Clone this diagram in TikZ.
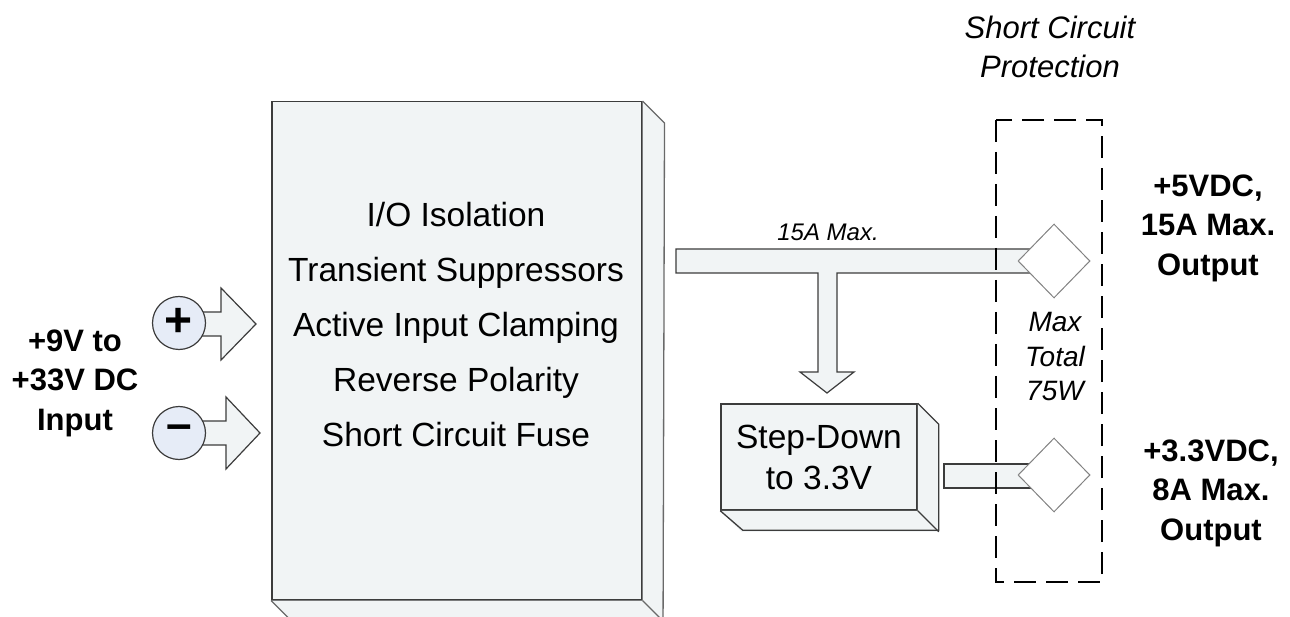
\documentclass[tikz,border=0pt]{standalone}
\usepackage{fontspec}
\setmainfont{Liberation Sans}
\usetikzlibrary{shapes.geometric}
\definecolor{boxfill}{RGB}{241,244,245}
\definecolor{circfill}{RGB}{230,236,247}
\definecolor{edge}{RGB}{60,60,60}
\definecolor{sideedge}{RGB}{105,105,105}
\definecolor{diaedge}{RGB}{130,130,130}
\begin{document}
\begin{tikzpicture}[x=1pt,y=-1pt,
  face/.style={fill=boxfill, draw=edge, line width=1.5pt, inner sep=0pt, anchor=north west},
  sidefill/.style={fill=boxfill},
  sideline/.style={draw=sideedge, line width=1.3pt, line join=miter},
  bararrow/.style={fill=boxfill, draw=edge, line width=1.2pt, line join=miter},
  dia/.style={diamond, draw=diaedge, fill=white, line width=1pt, minimum width=72pt, minimum height=74pt, inner sep=0pt},
  pm/.style={circle, draw=edge, fill=circfill, line width=1.2pt, minimum size=53pt, inner sep=0pt},
  boldlbl/.style={font=\fontsize{31}{39.5}\selectfont\bfseries, align=center},
  maintext/.style={font=\fontsize{33.5}{55}\selectfont, align=center},
  itlbl/.style={font=\fontsize{31}{39}\selectfont\itshape, align=center},
  protbox/.style={draw=black, line width=2pt, dash pattern=on 22pt off 10pt}]
\useasboundingbox (0,0) rectangle (1290,617);
\clip (0,0) rectangle (1290,617);

% main isolation block
\node[face, minimum width=370pt, minimum height=498pt] (main) at (271,101) {};
\fill[sidefill] (main.north east) -- ++(22,22) -- (663,640) -- (main.south east) -- cycle;
\fill[sidefill] (main.south west) -- ++(22,22) -- (663,621) -- (main.south east) -- cycle;
\draw[sideline] (main.north east) -- ++(22,22) -- (663,640);
\draw[sideline] (main.south west) -- ++(22,22);
\draw[sideline] (main.south east) -- ++(22,22);
\node[maintext] (mainlbl) at (456,325) {I/O Isolation\\Transient Suppressors\\Active Input Clamping\\Reverse Polarity\\Short Circuit Fuse};

% step-down block
\node[face, minimum width=196pt, minimum height=106pt, align=center, font=\fontsize{33.5}{41}\selectfont, anchor=center] (step3) at (819,457) {Step-Down\\to 3.3V};
\fill[sidefill] (step3.north east) -- ++(21,21) -- ++(0,106) -- (step3.south east) -- cycle;
\fill[sidefill] (step3.south west) -- ++(21,21) -- ++(196,0) -- (step3.south east) -- cycle;
\draw[sideline, draw=edge] (step3.north east) -- ++(21,21) -- ++(0,106) -- ++(-196,0) -- (step3.south west);
\draw[sideline, draw=edge] (step3.south east) -- ++(21,21);

% input terminals and arrows
\coordinate (plustip) at (256,324);
\coordinate (minustip) at (260,433);
\draw[bararrow] (179,312) -- (221,312) -- (221,288) -- (plustip) -- (221,360) -- (221,336) -- (179,336) -- cycle;
\draw[bararrow] (179,421) -- (226,421) -- (226,397) -- (minustip) -- (226,469) -- (226,445) -- (179,445) -- cycle;
\node[pm, font=\fontsize{48}{48}\selectfont\bfseries] (plus) at (179,323) {\raisebox{2pt}{+}};
\node[pm, font=\fontsize{46}{46}\selectfont\bfseries] (minus) at (179,433) {\raisebox{2pt}{–}};

% output bars
\coordinate (busL) at (676,249);
\draw[bararrow] (busL) -- (1054,249) -- (1054,273) -- (837,273) -- (837,372) -- (854,372) -- (827,393) -- (800,372) -- (818,372) -- (818,273) -- (676,273) -- cycle;
\draw[bararrow] (944,464) rectangle (1054,488);

\node[dia] (d5) at (1054,261) {};
\node[dia] (d33) at (1054,475) {};

% protection box
\draw[protbox] (996,120) rectangle (1102,582);

% labels
\node[itlbl] (prot) at (1050,47) {Short Circuit\\Protection};
\node[font=\fontsize{24}{24}\selectfont\itshape] (max15) at (828,232) {15A Max.};
\node[font=\fontsize{28}{34.5}\selectfont\itshape, align=center] (tot) at (1055,357) {Max\\Total\\75W};
\node[boldlbl] (out5) at (1208,228) {+5VDC,\\15A Max.\\Output};
\node[boldlbl] (out33) at (1211,493) {+3.3VDC,\\8A Max.\\Output};
\node[boldlbl] (inp) at (75,383) {+9V to\\+33V DC\\Input};
\end{tikzpicture}
\end{document}
